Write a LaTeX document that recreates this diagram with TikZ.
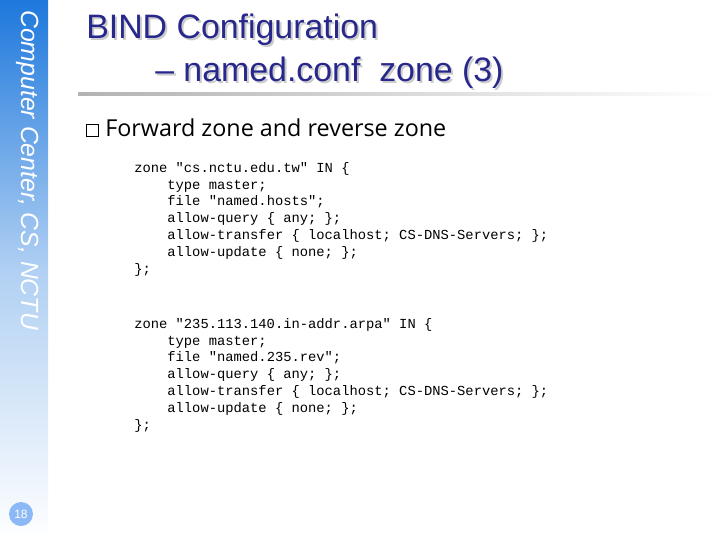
\documentclass[tikz,border=0pt]{standalone}
\usepackage{fontspec}
\setmainfont{Liberation Sans}
\newfontfamily\codefont{Liberation Mono}
\newfontfamily\bodyfont{Open Sans}
\usetikzlibrary{positioning}
\definecolor{titleblue}{RGB}{40,40,140}
\definecolor{barblue}{RGB}{30,120,220}
\definecolor{pageblue}{RGB}{140,185,245}
\tikzset{
  codeblock/.style={anchor=north west, align=left, inner sep=0pt, font=\codefont\fontsize{10.35}{12.6}\selectfont},
  titletext/.style={anchor=north west, align=left, inner sep=0pt, text=titleblue, font=\fontsize{25.4}{30}\selectfont}
}
\begin{document}
\begin{tikzpicture}[x=0.75pt,y=0.75pt]
\useasboundingbox (0,0) rectangle (720,540);
\fill[white] (0,0) rectangle (720,540);
% side bar
\shade[top color=barblue, bottom color=white, middle color=barblue!35] (0,0) rectangle (48,540);
\node (side) [rotate=-90, anchor=north west, inner sep=0pt, text=white, font=\itshape\fontsize{18.6}{20}\selectfont] at (39,530) {Computer Center, CS, NCTU};
\node (pagenum) [circle, fill=pageblue, minimum size=18pt, inner sep=0pt, text=white, font=\fontsize{9}{10}\selectfont] at (21,26) {18};
% title
\node (title1s) [titletext, text=gray!40] at (88,524) {BIND Configuration};
\node (title1) [titletext] at (86,526) {BIND Configuration};
\node (title2s) [titletext, text=gray!40] at (157,481) {-- named.conf\ \ zone (3)};
\node (title2) [titletext] at (155,483) {-- named.conf\ \ zone (3)};
\shade[left color=gray!60, right color=white] (78,444) rectangle (720,447);
% bullet
\node (bullet) [anchor=west, inner sep=0pt, font=\bodyfont\fontsize{17.5}{20}\selectfont] at (86,412) {\tikz\draw[line width=0.7pt] (0,0) rectangle (9pt,9pt);\ Forward zone and reverse zone};
% code
\node (fwd) [codeblock] at (134,378) {zone "cs.nctu.edu.tw" IN \{\\
\ \ \ \ type master;\\
\ \ \ \ file "named.hosts";\\
\ \ \ \ allow-query \{ any; \};\\
\ \ \ \ allow-transfer \{ localhost; CS-DNS-Servers; \};\\
\ \ \ \ allow-update \{ none; \};\\
\};};
\node (rev) [codeblock] at (134,222) {zone "235.113.140.in-addr.arpa" IN \{\\
\ \ \ \ type master;\\
\ \ \ \ file "named.235.rev";\\
\ \ \ \ allow-query \{ any; \};\\
\ \ \ \ allow-transfer \{ localhost; CS-DNS-Servers; \};\\
\ \ \ \ allow-update \{ none; \};\\
\};};
\end{tikzpicture}
\end{document}
